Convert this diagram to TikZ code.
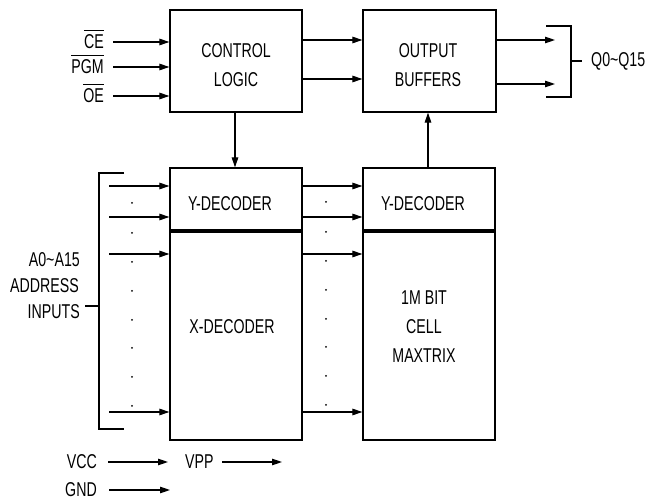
\documentclass[tikz,border=0pt]{standalone}
\usepackage{fontspec}
\setmainfont{Liberation Sans}[FakeStretch=0.71]
\usetikzlibrary{arrows.meta}
\begin{document}
\begin{tikzpicture}[x=1pt,y=-1pt,
  blk/.style={draw, line width=1.2pt, inner sep=0pt, minimum width=132pt},
  lbl/.style={inner sep=0pt, font=\fontsize{20}{29}\selectfont, align=center},
  arr/.style={line width=1.1pt, -{Triangle[length=10pt,width=6.5pt]}},
  ln/.style={line width=1.2pt},
  ovl/.style={line width=0.9pt},
  divider/.style={line width=3.5pt},
  dot/.style={fill, circle, inner sep=0pt, minimum size=2pt}]
\useasboundingbox (0,0) rectangle (649,502);
% blocks
\node[blk, minimum height=102pt] (cl) at (236,61) {};
\node[blk, minimum width=133pt, minimum height=102pt] (ob) at (429.5,61) {};
\node[blk, minimum height=272pt] (xd) at (236,304) {};
\node[blk, minimum height=272pt] (md) at (429,304) {};
% texts in blocks
\node[lbl] (tcl) at (236,65) {CONTROL\\LOGIC};
\node[lbl] (tob) at (428,65) {OUTPUT\\BUFFERS};
\node[lbl] (yd1) at (230,204) {Y-DECODER};
\node[lbl] (xdt) at (232,327) {X-DECODER};
\node[lbl] (yd2) at (423,204) {Y-DECODER};
\node[lbl] (mt) at (424,327) {1M BIT\\CELL\\MAXTRIX};
% dividers
\coordinate (dv) at (0,231);
\draw[divider] (xd.west |- dv) -- (xd.east |- dv);
\draw[divider] (md.west |- dv) -- (md.east |- dv);
% control inputs
\node[lbl, anchor=east] (ce) at (104,42) {CE};
\node[lbl, anchor=east] (pgm) at (104,67) {PGM};
\node[lbl, anchor=east] (oe) at (104,96) {OE};
\foreach \n in {ce,pgm,oe}
  \draw[ovl] ([yshift=4pt]\n.north west) -- ([yshift=4pt]\n.north east);
\coordinate (ceA) at (113,42);
\coordinate (pgmA) at (113,67);
\coordinate (oeA) at (113,96);
\draw[arr] (ceA) -- (ceA -| cl.west);
\draw[arr] (pgmA) -- (pgmA -| cl.west);
\draw[arr] (oeA) -- (oeA -| cl.west);
% control -> output buffers
\coordinate (c1) at (0,40);
\coordinate (c2) at (0,79);
\draw[arr] (cl.east |- c1) -- (ob.west |- c1);
\draw[arr] (cl.east |- c2) -- (ob.west |- c2);
% outputs
\coordinate (o1) at (555,40);
\coordinate (o2) at (555,84);
\draw[arr] (ob.east |- o1) -- (o1);
\draw[arr] (ob.east |- o2) -- (o2);
\coordinate (qb1) at (546,26);
\coordinate (qb2) at (571,26);
\coordinate (qb3) at (571,97);
\coordinate (qb4) at (546,97);
\draw[ln] (qb1) -- (qb2) -- (qb3) -- (qb4);
\node[lbl, anchor=west] (q) at (591,61) {Q0\textasciitilde Q15};
\coordinate (qt) at (571,61);
\draw[ln] (qt) -- (q.west -| 582,0);
% vertical connections
\draw[arr] (cl.south -| 235,0) -- (xd.north -| 235,0);
\draw[arr] (md.north -| 428,0) -- (ob.south -| 428,0);
% address inputs
\coordinate (ab1) at (124,173);
\coordinate (ab2) at (99,173);
\coordinate (ab3) at (99,429);
\coordinate (ab4) at (124,429);
\draw[ln] (ab1) -- (ab2) -- (ab3) -- (ab4);
\coordinate (at1) at (99,306);
\coordinate (at2) at (85,306);
\draw[ln] (at1) -- (at2);
\node[lbl, anchor=east] (a0) at (80,260) {A0\textasciitilde A15};
\node[lbl, anchor=east] (adr) at (79,286) {ADDRESS};
\node[lbl, anchor=east] (inp) at (80,312) {INPUTS};
\foreach \y [count=\i] in {186,217,254,412} {
  \coordinate (in\i) at (109,\y);
  \draw[arr] (in\i) -- (in\i -| xd.west);
  \draw[arr] (xd.east |- in\i) -- (md.west |- in\i);
}
\foreach \y [count=\i] in {203,233,262,291,320,348,377,406} {
  \node[dot] (dl\i) at (132,\y) {};
  \node[dot] (dm\i) at (326,\y-1) {};
}
% power
\node[lbl, anchor=east] (vcc) at (97,462) {VCC};
\node[lbl, anchor=west] (vpp) at (185,462) {VPP};
\node[lbl, anchor=east] (gnd) at (97,490) {GND};
\coordinate (v1) at (108,462);
\coordinate (v2) at (168,462);
\coordinate (p1) at (222,462);
\coordinate (p2) at (282,462);
\coordinate (g1) at (109,490);
\coordinate (g2) at (170,490);
\draw[arr] (v1) -- (v2);
\draw[arr] (p1) -- (p2);
\draw[arr] (g1) -- (g2);
\end{tikzpicture}
\end{document}
